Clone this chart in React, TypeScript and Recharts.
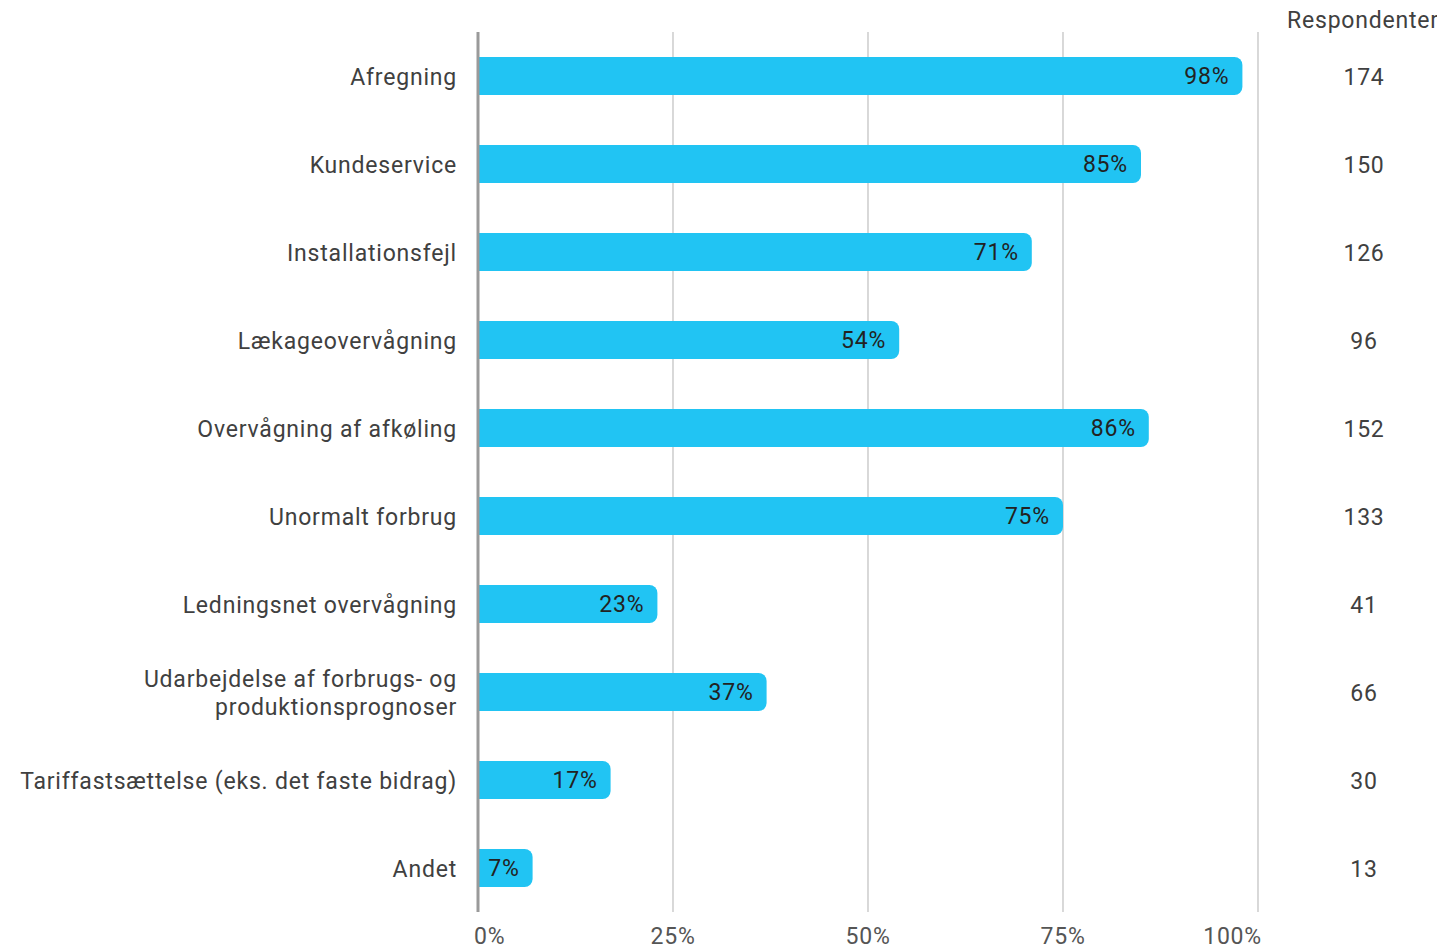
import React from "react";
import { BarChart, Bar, XAxis, YAxis, CartesianGrid, LabelList } from "recharts";

const categories = [
  "Afregning",
  "Kundeservice",
  "Installationsfejl",
  "Lækageovervågning",
  "Overvågning af afkøling",
  "Unormalt forbrug",
  "Ledningsnet overvågning",
  "Udarbejdelse af forbrugs- og\nproduktionsprognoser",
  "Tariffastsættelse (eks. det faste bidrag)",
  "Andet",
];
const shares = [98, 85, 71, 54, 86, 75, 23, 37, 17, 7];
const respondents = [174, 150, 126, 96, 152, 133, 41, 66, 30, 13];
const xTicks = [0, 25, 50, 75, 100];

const data = categories.map((name, i) => ({
  name,
  share: shares[i],
  resp: respondents[i],
}));

const FONT = "Roboto, 'Noto Sans', sans-serif";
const FS = 23;
const LS = 0.8;

function CategoryTick({ x, y, payload }: any) {
  const lines = String(payload.value).split("\n");
  const lh = 28;
  const start = -((lines.length - 1) * lh) / 2;
  return (
    <text
      x={x - 19}
      y={y + 1}
      textAnchor="end"
      fill="#404040"
      fontSize={FS}
      letterSpacing={LS}
      fontFamily={FONT}
      dominantBaseline="central"
    >
      {lines.map((l: string, i: number) => (
        <tspan key={i} x={x - 19} dy={i === 0 ? start : lh}>
          {l}
        </tspan>
      ))}
    </text>
  );
}

function RespTick({ x, y, payload }: any) {
  const row = data.find((d) => d.name === payload.value);
  return (
    <text
      x={x + 104}
      y={y + 1}
      textAnchor="middle"
      fill="#404040"
      fontSize={FS}
      letterSpacing={LS}
      fontFamily={FONT}
      dominantBaseline="central"
    >
      {row ? row.resp : ""}
    </text>
  );
}

function PercentTick({ x, y, payload }: any) {
  const v = payload.value;
  const anchor = v === 0 ? "start" : v === 100 ? "end" : "middle";
  const dx = v === 0 ? -4 : v === 100 ? 4 : 0;
  return (
    <text
      x={x + dx}
      y={y + 22}
      textAnchor={anchor}
      fill="#555"
      fontSize={FS}
      letterSpacing={LS}
      fontFamily={FONT}
      dominantBaseline="central"
    >
      {`${v}%`}
    </text>
  );
}

export default function App() {
  return (
    <div style={{ position: "relative", width: 1437, height: 940, fontFamily: FONT }}>
      <div
        style={{
          position: "absolute",
          left: 1279,
          top: -1,
          whiteSpace: "nowrap",
          fontSize: FS,
          letterSpacing: LS,
          color: "#404040",
        }}
      >
        Respondenter
      </div>
      <BarChart
        width={1437}
        height={940}
        data={data}
        layout="vertical"
        margin={{ top: 24, right: 0, bottom: 6, left: 0 }}
      >
        <CartesianGrid horizontal={false} stroke="#c4c4c4" strokeWidth={1.3} />
        <XAxis
          type="number"
          domain={[0, 100]}
          ticks={xTicks}
          axisLine={false}
          tickLine={false}
          tickSize={0}
          height={30}
          tick={<PercentTick />}
        />
        <YAxis
          yAxisId="left"
          type="category"
          dataKey="name"
          width={470}
          axisLine={{ stroke: "#9a9a9a", strokeWidth: 3 }}
          tickLine={false}
          tickSize={0}
          tick={<CategoryTick />}
          interval={0}
        />
        <YAxis
          yAxisId="right"
          orientation="right"
          type="category"
          dataKey="name"
          width={187}
          axisLine={false}
          tickLine={false}
          tickSize={0}
          tick={<RespTick />}
          interval={0}
        />
        <Bar
          yAxisId="left"
          dataKey="share"
          fill="#21C4F3"
          barSize={38}
          radius={[0, 8, 8, 0]}
          isAnimationActive={false}
        >
          <LabelList
            dataKey="share"
            position="insideRight"
            offset={13}
            formatter={(v: any) => `${v}%`}
            style={{ fill: "#222", fontSize: FS, letterSpacing: LS, fontFamily: FONT }}
          />
        </Bar>
      </BarChart>
    </div>
  );
}
